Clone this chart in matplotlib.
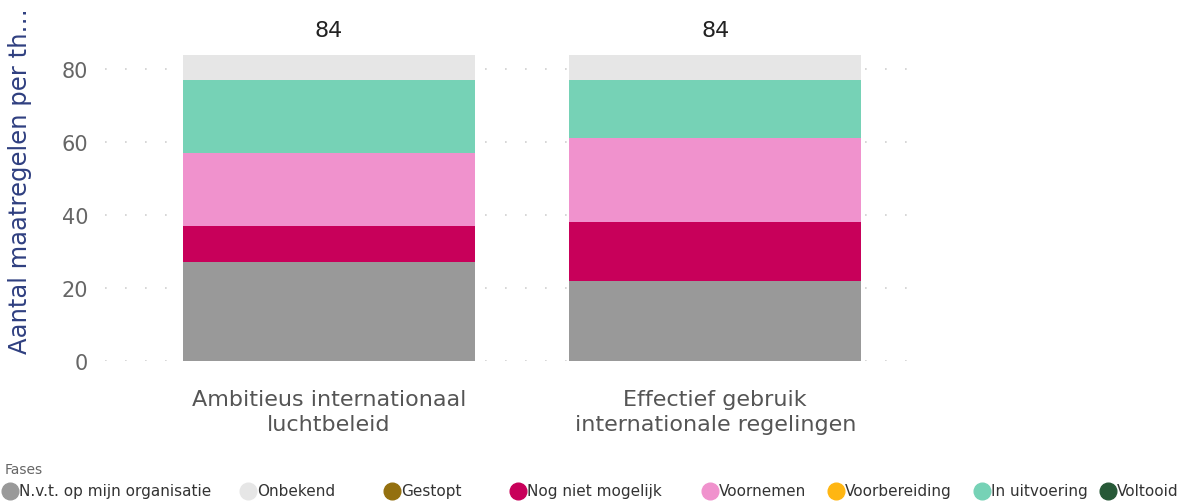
import matplotlib.pyplot as plt
from matplotlib.lines import Line2D

categories = ["Ambitieus internationaal\nluchtbeleid",
              "Effectief gebruik\ninternationale regelingen"]
phases = ["N.v.t. op mijn organisatie", "Onbekend", "Gestopt", "Nog niet mogelijk",
          "Voornemen", "Voorbereiding", "In uitvoering", "Voltooid"]
colors = ["#999999", "#e6e6e6", "#94700f", "#c8005a",
          "#f092cd", "#ffb612", "#76d2b6", "#275937"]
# stacking order bottom -> top
stack_order = ["N.v.t. op mijn organisatie", "Nog niet mogelijk", "Voornemen",
               "Voorbereiding", "In uitvoering", "Voltooid", "Gestopt", "Onbekend"]
values = {
    "N.v.t. op mijn organisatie": [27, 22],
    "Nog niet mogelijk": [10, 16],
    "Voornemen": [20, 23],
    "Voorbereiding": [0, 0],
    "In uitvoering": [20, 16],
    "Voltooid": [0, 0],
    "Gestopt": [0, 0],
    "Onbekend": [7, 7],
}
yticks = [0, 20, 40, 60, 80]

fig = plt.figure(figsize=(11.91, 5.02), dpi=100)
ax = fig.add_axes([105 / 1191, 1 - 362 / 502, 815 / 1191, (362 - 55.5) / 502])

x = list(range(len(categories)))
bottoms = [0] * len(categories)
for name in stack_order:
    vals = values[name]
    ax.bar(x, vals, bottom=bottoms, width=0.756, color=colors[phases.index(name)],
           linewidth=0, zorder=2)
    bottoms = [b + v for b, v in zip(bottoms, vals)]

for xi, total in zip(x, bottoms):
    ax.text(xi, total + 4, str(total), ha="center", va="bottom", fontsize=16,
            color="#222222", clip_on=False)

ax.set_xlim(-0.58, 1.53)
ax.set_ylim(0, 84)
ax.set_yticks(yticks)
ax.set_xticks(x)
ax.set_xticklabels(categories, fontsize=16, color="#555555", linespacing=1.3)
ax.tick_params(axis="y", labelsize=15, labelcolor="#666666", length=0, pad=12)
ax.tick_params(axis="x", length=0, pad=20)
for s in ax.spines.values():
    s.set_visible(False)
ax.grid(axis="y", color="#d0d0d0", linestyle=(0, (1, 11)), linewidth=1.2, zorder=0)
ax.set_axisbelow(True)
ax.set_ylabel("Aantal maatregelen per th\u2026", fontsize=17.5, color="#2f3f80")
ax.yaxis.set_label_coords(-0.0896, 0.59)

fig.text(5 / 1191, 1 - 470 / 502, "Fases", fontsize=10, color="#666666", va="center")
legend_x = [10, 248, 392, 518, 710, 836, 982, 1108]
for name, col, lx in zip(phases, colors, legend_x):
    fig.add_artist(Line2D([lx / 1191], [1 - 492 / 502], marker="o", markersize=12,
                          color=col, linestyle="none", transform=fig.transFigure))
    fig.text((lx + 9) / 1191, 1 - 492 / 502, name, fontsize=11, color="#333333",
             va="center", ha="left")

fig.savefig("out.png", dpi=100)
